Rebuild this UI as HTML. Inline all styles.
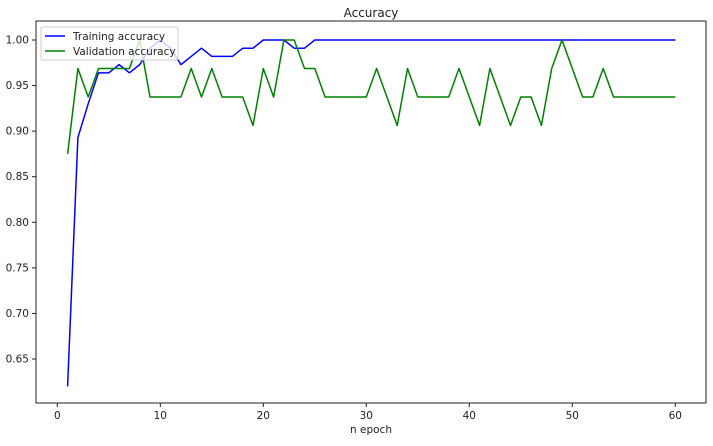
<!DOCTYPE html>
<html><head><meta charset="utf-8"><style>
body{margin:0;background:#fff;font-family:"Liberation Sans","DejaVu Sans",sans-serif;}
svg text{font-family:"DejaVu Sans","Liberation Sans",sans-serif;font-size:10.5px;fill:#222;}
</style></head><body>
<svg id="chart" width="713" height="441" xmlns="http://www.w3.org/2000/svg"></svg>
<script>
const epochs = Array.from({length:60},(_,i)=>i+1);
const training = [0.62,0.893,0.93,0.964,0.964,0.973,0.964,0.973,0.991,1.0,0.991,0.973,0.982,0.991,0.982,0.982,0.982,0.991,0.991,1,1,1,0.991,0.991,1,1,1,1,1,1,1,1,1,1,1,1,1,1,1,1,1,1,1,1,1,1,1,1,1,1,1,1,1,1,1,1,1,1,1,1];
const validation = [0.875,0.96875,0.9375,0.96875,0.96875,0.96875,0.96875,1.0,0.9375,0.9375,0.9375,0.9375,0.96875,0.9375,0.96875,0.9375,0.9375,0.9375,0.90625,0.96875,0.9375,1.0,1.0,0.96875,0.96875,0.9375,0.9375,0.9375,0.9375,0.9375,0.96875,0.9375,0.90625,0.96875,0.9375,0.9375,0.9375,0.9375,0.96875,0.9375,0.90625,0.96875,0.9375,0.90625,0.9375,0.9375,0.90625,0.96875,1.0,0.96875,0.9375,0.9375,0.96875,0.9375,0.9375,0.9375,0.9375,0.9375,0.9375,0.9375];
const xTicks = [0,10,20,30,40,50,60];
const yTicks = [0.65,0.70,0.75,0.80,0.85,0.90,0.95,1.00];

const svg = document.getElementById('chart');
const NS='http://www.w3.org/2000/svg';
const L=36,R=706,T=21,B=403;
const xs=v=>57.3+v*10.3;
const ys=v=>359-(v-0.65)*911.4;
function el(tag,attrs,parent){const e=document.createElementNS(NS,tag);for(const k in attrs)e.setAttribute(k,attrs[k]);(parent||svg).appendChild(e);return e;}

let t=el('text',{x:(L+R)/2,y:17,'text-anchor':'middle',style:'font-size:12px'});t.textContent='Accuracy';



xTicks.forEach(v=>{
  const g=el('g',{});
  
  
  el('line',{x1:xs(v),x2:xs(v),y1:B,y2:B+4,stroke:'#222'},g);
  const tx=el('text',{x:xs(v),y:B+16,'text-anchor':'middle'},g);tx.textContent=v;
});
yTicks.forEach(v=>{
  const g=el('g',{});
  
  
  el('line',{x1:L-4,x2:L,y1:ys(v),y2:ys(v),stroke:'#222'},g);
  const tx=el('text',{x:L-7,y:ys(v)+3.5,'text-anchor':'end'},g);tx.textContent=v.toFixed(2);
});
t=el('text',{x:(L+R)/2,y:433,'text-anchor':'middle'});t.textContent='n epoch';



function line(data,color,name){
  const p=el('polyline',{points:data.map((v,i)=>xs(epochs[i])+','+ys(v)).join(' '),fill:'none',stroke:color,'stroke-width':1.5,'stroke-linejoin':'round'});
  
  
}
line(training,'#0000ff','training-accuracy-line');
line(validation,'#008000','validation-accuracy-line');

const frame=el('rect',{x:L,y:T,width:R-L,height:B-T,fill:'none',stroke:'#222','stroke-width':1});



const lg=el('g',{});


el('rect',{x:41,y:27,width:137,height:33,fill:'#fff','fill-opacity':0.8,stroke:'#ccc',rx:2},lg);
el('line',{x1:45,x2:65,y1:36,y2:36,stroke:'#0000ff','stroke-width':1.5},lg);
let a=el('text',{x:73,y:40},lg);a.textContent='Training accuracy';
el('line',{x1:45,x2:65,y1:51,y2:51,stroke:'#008000','stroke-width':1.5},lg);
a=el('text',{x:73,y:55},lg);a.textContent='Validation accuracy';
</script>
</body></html>
